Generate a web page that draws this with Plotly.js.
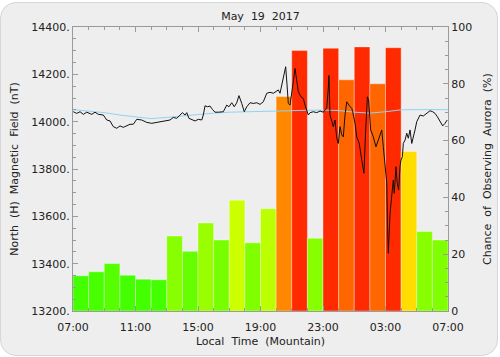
<!DOCTYPE html>
<html>
<head>
<meta charset="utf-8">
<script src="https://cdn.plot.ly/plotly-3.0.1.min.js"></script>
<style>
  html, body { margin: 0; padding: 0; background: #ffffff; }
  #frame { position: absolute; left: 0; top: 2px; width: 496px; height: 352px; background: #eeeeee;
           border: 1px solid #d6d6d6; border-radius: 16px; overflow: hidden; }
  #chart { position: absolute; left: -1px; top: -3px; width: 500px; height: 357px; }
</style>
</head>
<body>
<div id="frame"><div id="chart"></div></div>
<script>
// Hours since 07:00 local time (Mountain), 24-hour window
const tickHours = [0, 4, 8, 12, 16, 20, 24];
const tickLabels = ["07:00", "11:00", "15:00", "19:00", "23:00", "03:00", "07:00"];

// Hourly bars: chance of observing aurora (%)
const barHours = [0.5,1.5,2.5,3.5,4.5,5.5,6.5,7.5,8.5,9.5,10.5,11.5,12.5,13.5,14.5,15.5,16.5,17.5,18.5,19.5,20.5,21.5,22.5,23.5];
const auroraChance = [12.4,13.8,16.7,12.6,11.2,11.0,26.4,21.0,31.0,25.0,39.0,24.0,36.0,75.5,91.7,25.6,92.5,81.4,93.0,80.0,92.7,56.2,28.0,25.0];
const barColors = ["#44ff00","#48ff00","#55ff00","#44ff00","#44ff00","#44ff00","#88ff00","#66ff00","#99ff00","#77ff00","#ccff00","#7fff00",
                   "#bbff00","#ff8800","#ff2a00","#88ff00","#ff2a00","#ff6600","#ff2a00","#ff6600","#ff2a00","#ffdd00","#88ff00","#80ff00"];

// North (H) magnetic field (nT)
const fieldHours = [0.02,0.24,0.45,0.66,0.88,1.20,1.41,1.62,1.94,2.16,2.37,2.58,2.80,3.01,3.22,3.44,3.65,3.86,4.08,4.40,4.72,5.04,5.36,5.68,6.00,
  6.21,6.42,6.64,6.85,7.00,7.17,7.28,7.42,7.60,7.81,8.02,8.24,8.34,8.45,8.62,8.77,8.92,9.09,9.30,9.62,9.84,9.98,10.16,10.32,10.48,10.62,10.80,10.96,11.12,11.33,11.54,11.76,11.97,12.18,12.40,12.61,
  12.82,13.14,13.25,13.40,13.52,13.61,13.70,13.78,13.89,14.00,14.10,14.21,14.32,14.42,14.59,14.74,14.85,14.96,15.06,15.17,15.38,15.60,15.81,16.02,16.24,16.34,16.38,16.45,16.56,16.66,16.77,16.88,16.98,17.09,17.20,17.30,17.41,17.52,17.66,17.84,
  17.90,18.05,18.16,18.32,18.48,18.62,18.73,18.84,18.92,19.05,19.22,19.39,19.54,19.76,19.86,19.97,20.08,20.14,20.18,20.29,20.40,20.50,20.56,20.67,20.75,20.84,20.93,20.99,21.08,21.14,21.25,21.36,21.46,21.57,21.68,21.78,21.89,22.00,22.10,22.21,22.42,22.64,22.85,23.02,23.17,23.32,23.49,23.66,23.81,23.95];
const fieldNT = [14042,14035,14042,14031,14040,14031,14040,14031,14028,14007,14003,13979,13972,13982,13976,13982,13989,13989,14010,14007,13997,13993,13997,14000,14007,
  14007,14018,14014,14028,14038,14028,14038,14014,14010,14003,14010,14007,14028,14067,14063,14066,14052,14040,14040,14042,14070,14063,14080,14063,14080,14110,14077,14042,14063,14080,14077,14080,14073,14084,14120,14124,
  14120,14134,14120,14169,14197,14232,14155,14077,14070,14113,14169,14225,14169,14127,14105,14098,14070,14049,14028,14038,14042,14038,14045,14040,14059,14141,14195,14028,14000,13979,14007,13930,13908,13979,13944,13936,14028,14084,14070,14056,
  14042,13993,13936,13908,13838,13782,13965,14105,14092,13965,13936,13894,13922,13965,13894,13796,13740,13528,13444,13613,13683,13753,13697,13810,13740,13711,13810,13838,13852,13908,13922,13951,13930,13965,13908,13930,13965,14000,14014,14028,14024,14035,14046,14042,14035,14021,14000,13982,13993,14007];

// Quiet-day baseline (nT)
const baseHours = [0,1,2,3,4,5,6,7,8,9,10,11,12,13,14,15,16,17,18,19,20,21,22,23,24];
const baseNT = [14051,14046,14038,14028,14019,14013,14018,14025,14032,14036,14040,14042,14045,14047,14048,14048,14049,14047,14040,14036,14042,14050,14051,14051,14051];

const leftTickVals = [13200,13400,13600,13800,14000,14200,14400];
const leftTickText = ["13200.","13400.","13600.","13800.","14000.","14200.","14400."];
const rightTickVals = [0,20,40,60,80,100];

// wide word spacing as in the original (non-breaking spaces are not collapsed)
const sp = "\u00a0\u00a0";
const titleText = ["May", "19", "2017"].join(sp);
const xTitleText = ["Local", "Time", "(Mountain)"].join(sp);
const leftTitleText = ["North", "(H)", "Magnetic", "Field", "(nT)"].join(sp);
const rightTitleText = ["Chance", "of", "Observing", "Aurora", "(%)"].join(sp);

const font = {family: "DejaVu Sans", size: 11, color: "#222"};
const axisCol = "#9a9a9a";

const traces = [
  {type: "bar", x: barHours, y: auroraChance, width: 1, yaxis: "y", xaxis: "x",
   marker: {color: barColors, line: {color: "rgba(255,255,255,0.35)", width: 1}}, hoverinfo: "skip"},
  {type: "scatter", mode: "lines", x: baseHours, y: baseNT, yaxis: "y2", xaxis: "x",
   line: {color: "#8fd3f0", width: 1}, hoverinfo: "skip"},
  {type: "scatter", mode: "lines", x: fieldHours, y: fieldNT, yaxis: "y2", xaxis: "x",
   line: {color: "#111", width: 1}, hoverinfo: "skip"}
];

const layout = {
  width: 500, height: 357,
  margin: {l: 73, r: 52, t: 27, b: 46},
  paper_bgcolor: "rgba(0,0,0,0)", plot_bgcolor: "#eeeeee",
  font: font, showlegend: false, bargap: 0,
  title: {text: titleText, x: 0.521, xanchor: "center", y: 0.955, yanchor: "middle", font: font},
  xaxis: {range: [0, 24], tickmode: "array", tickvals: tickHours, ticktext: tickLabels,
          ticks: "inside", ticklen: 5, tickcolor: axisCol, showline: true, linecolor: axisCol, linewidth: 1,
          mirror: "ticks", showgrid: false, zeroline: false, ticklabelstandoff: 6,
          minor: {dtick: 1, tick0: 0, ticks: "inside", ticklen: 3, tickcolor: axisCol, showgrid: false},
          title: {text: xTitleText, font: font, standoff: 4}},
  yaxis: {range: [0, 100], side: "right", tickmode: "array", tickvals: rightTickVals,
          ticks: "inside", ticklen: 5, tickcolor: axisCol, showline: true, linecolor: axisCol, linewidth: 1,
          showgrid: false, zeroline: false,
          minor: {dtick: 5, tick0: 0, ticks: "inside", ticklen: 3, tickcolor: axisCol, showgrid: false},
          title: {text: rightTitleText, font: font, standoff: 12}},
  yaxis2: {range: [13200, 14400], side: "left", overlaying: "y", tickmode: "array", tickvals: leftTickVals, ticktext: leftTickText,
          ticks: "inside", ticklen: 5, tickcolor: axisCol, showline: true, linecolor: axisCol, linewidth: 1,
          showgrid: false, zeroline: false,
          minor: {dtick: 50, tick0: 13200, ticks: "inside", ticklen: 3, tickcolor: axisCol, showgrid: false},
          title: {text: leftTitleText, font: font, standoff: 10}}
};

Plotly.newPlot("chart", traces, layout, {displayModeBar: false, staticPlot: true});
</script>
</body>
</html>
